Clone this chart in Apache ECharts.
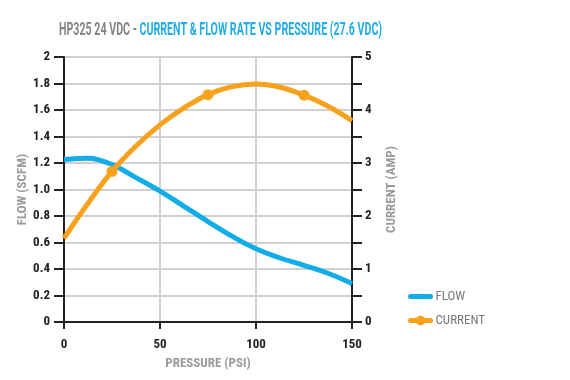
<!DOCTYPE html>
<html><head><meta charset="utf-8">
<script src="https://cdn.jsdelivr.net/npm/echarts@6/dist/echarts.min.js"></script>
<style>html,body{margin:0;padding:0;background:#fff}#c{width:570px;height:380px}</style>
</head><body><div id="c"></div>
<script>
var pressure = [0, 12.5, 25, 37.5, 50, 62.5, 75, 87.5, 100, 112.5, 125, 137.5, 150];
var flow = [1.226, 1.236, 1.188, 1.09, 0.988, 0.873, 0.758, 0.648, 0.553, 0.483, 0.428, 0.368, 0.29];
var current = [1.58, 2.24, 2.84, 3.32, 3.72, 4.04, 4.29, 4.44, 4.49, 4.43, 4.28, 4.07, 3.80];
var currentMarkers = [25, 75, 125];
var currentTicks = [0, 1, 2, 3, 4, 5];
var titleGray = 'HP325 24 VDC - ';
var titleBlue = 'CURRENT & FLOW RATE VS PRESSURE (27.6 VDC)';

var FONT = '"Roboto Condensed", "Liberation Sans Narrow", Roboto, sans-serif';
var chart = echarts.init(document.getElementById('c'));
var flowData = pressure.map(function (p, i) { return [p, flow[i]]; });
var curData = pressure.map(function (p, i) {
  var it = { value: [p, current[i]] };
  if (currentMarkers.indexOf(p) < 0) it.symbol = 'none';
  return it;
});
chart.setOption({
  animation: false,
  graphic: [{
    type: 'text', x: 59, y: 30, scaleX: 0.56,
    style: {
      text: '{g|' + titleGray + '}{b|' + titleBlue + '}',
      verticalAlign: 'middle',
      rich: {
        g: { fill: '#858585', fontSize: 19, fontFamily: 'Roboto', fontWeight: 'bold' },
        b: { fill: '#22ade6', fontSize: 19, fontFamily: 'Roboto', fontWeight: 'bold' }
      }
    }
  }],
  legend: {
    orient: 'vertical', left: 403, top: 285, itemGap: 11, itemWidth: 20, itemHeight: 12,
    textStyle: { color: '#777', fontSize: 13, fontFamily: FONT },
    lineStyle: { width: 5, cap: 'round' },
    data: [{ name: 'FLOW', itemStyle: { opacity: 0 } }, { name: 'CURRENT' }]
  },
  grid: { left: 64, right: 218, top: 57, bottom: 58 },
  xAxis: {
    type: 'value', min: 0, max: 150, interval: 50,
    name: 'PRESSURE (PSI)', nameLocation: 'middle', nameGap: 35,
    nameTextStyle: { color: '#9a9a9a', fontWeight: 'bold', fontSize: 13, fontFamily: FONT },
    axisLine: { lineStyle: { color: '#222', width: 2 } },
    axisTick: { show: true, length: 7, lineStyle: { color: '#222', width: 2 } },
    axisLabel: { color: '#222', fontWeight: 'bold', fontSize: 13, fontFamily: FONT, margin: 16 },
    splitLine: { show: true, lineStyle: { color: '#d0d0d0', width: 2 } }
  },
  yAxis: [{
    type: 'value', min: 0, max: 2, interval: 0.2,
    name: 'FLOW (SCFM)', nameLocation: 'middle', nameGap: 35, nameMoveOverlap: false,
    nameTextStyle: { color: '#9a9a9a', fontWeight: 'bold', fontSize: 13, fontFamily: FONT },
    axisLine: { show: true, lineStyle: { color: '#222', width: 2 } },
    axisTick: { show: true, length: 10, lineStyle: { color: '#222', width: 2 } },
    axisLabel: {
      color: '#222', fontWeight: 'bold', fontSize: 13, fontFamily: FONT, margin: 14,
      formatter: function (v) {
        var r = Math.round(v * 10) / 10;
        return (r === 0 || r === 2) ? String(r) : r.toFixed(1);
      }
    },
    splitLine: { show: true, lineStyle: { color: '#d0d0d0', width: 2 } }
  }, {
    type: 'value', min: 0, max: 5, interval: 0.5, position: 'right',
    name: 'CURRENT (AMP)', nameLocation: 'middle', nameGap: 33,
    nameTextStyle: { color: '#9a9a9a', fontWeight: 'bold', fontSize: 13, fontFamily: FONT },
    axisLine: { show: true, lineStyle: { color: '#222', width: 2 } },
    axisTick: { show: true, length: 10, lineStyle: { color: '#222', width: 2 } },
    axisLabel: {
      color: '#222', fontWeight: 'bold', fontSize: 13, fontFamily: FONT, margin: 13,
      formatter: function (v) {
        return currentTicks.indexOf(v) >= 0 ? String(v) : '';
      }
    },
    splitLine: { show: false }
  }],
  series: [{
    name: 'FLOW', type: 'line', yAxisIndex: 0, smooth: 0.4,
    symbol: 'none', data: flowData,
    itemStyle: { color: '#12ade8' },
    lineStyle: { color: '#12ade8', width: 5 }
  }, {
    name: 'CURRENT', type: 'line', yAxisIndex: 1, smooth: 0.4,
    symbol: 'circle', symbolSize: 11, data: curData,
    itemStyle: { color: '#f7a11c' },
    lineStyle: { color: '#f7a11c', width: 5 }
  }]
});
</script></body></html>
